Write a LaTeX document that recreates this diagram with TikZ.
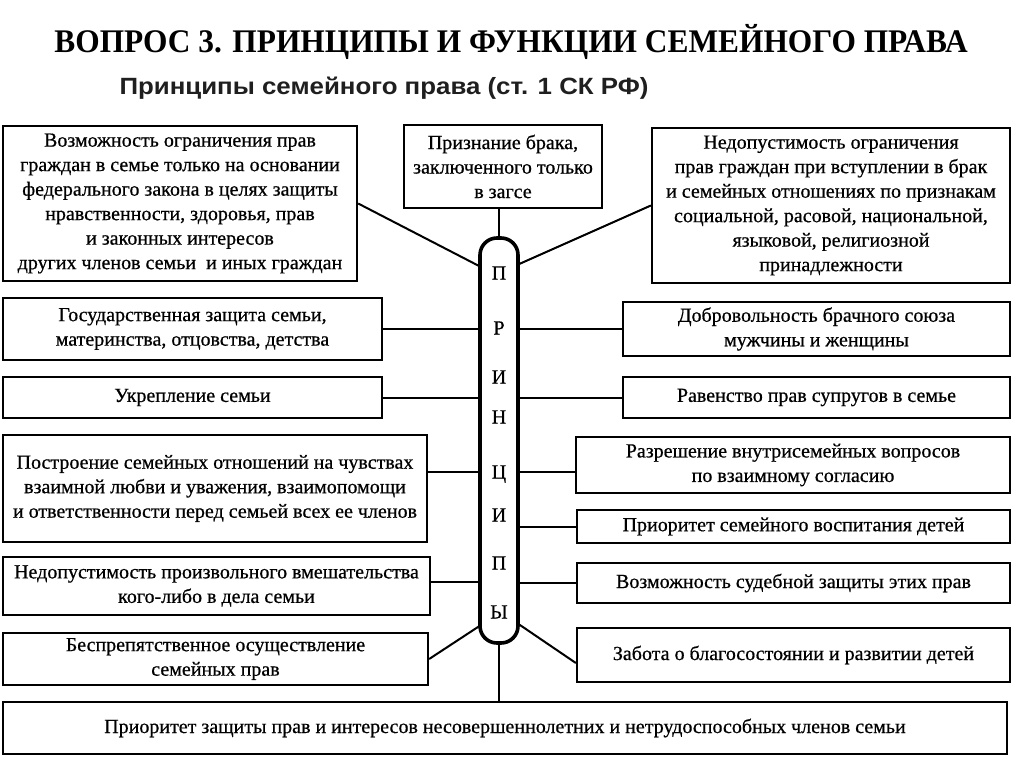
\documentclass[tikz,border=0pt]{standalone}
\usepackage{fontspec}
\setmainfont{Liberation Serif}
\newfontfamily\boxfont[FakeBold=0.6]{Liberation Serif}
\newfontfamily\subfont{Liberation Sans}
\usetikzlibrary{calc}
\newcommand\pbox[6]{\node[box, minimum width={#4-#2}, minimum height={#5-#3}] (#1) at ({(#2+#4)/2},{(#3+#5)/2}) {#6};}
\begin{document}
\begin{tikzpicture}[x=1pt,y=-1pt,
  box/.style={draw, line width=2.3pt, fill=white, align=center, inner sep=0pt,
    font=\boxfont\fontsize{20}{24.5}\selectfont},
  conn/.style={line width=2pt},
  pillar/.style={draw, line width=3.6pt, fill=white, rounded corners=17pt, inner sep=0pt},
  letter/.style={font=\boxfont\fontsize{20}{24}\selectfont, inner sep=0pt, anchor=base},
  titlestyle/.style={inner sep=0pt, anchor=base}]
\useasboundingbox[fill=white] (0,0) rectangle (1024,767);

\node[titlestyle] (T) at (511,52.5) {\scalebox{0.951}[1]{\fontsize{33}{38}\selectfont\bfseries ВОПРОС 3. ПРИНЦИПЫ И ФУНКЦИИ СЕМЕЙНОГО ПРАВА}};
\node[titlestyle, text=black!88] (S) at (384,95) {\scalebox{1.10}[1]{\fontsize{23.5}{27}\selectfont\subfont\bfseries Принципы семейного права (ст. 1 СК РФ)}};

\pbox{L1}{3}{126}{357}{281}{Возможность ограничения прав\\граждан в семье только на основании\\федерального закона в целях защиты\\нравственности, здоровья, прав\\и законных интересов\\других членов семьи \ и иных граждан}
\pbox{M}{404}{125}{602}{208}{Признание брака,\\заключенного только\\в загсе}
\pbox{R1}{652}{128}{1010}{283}{Недопустимость ограничения\\прав граждан при вступлении в брак\\и семейных отношениях по признакам\\социальной, расовой, национальной,\\языковой, религиозной\\принадлежности}
\pbox{L2}{3}{298}{382}{360}{Государственная защита семьи,\\материнства, отцовства, детства}
\pbox{L3}{3}{377}{382}{418}{Укрепление семьи}
\pbox{L4}{3}{435}{427}{542}{Построение семейных отношений на чувствах\\взаимной любви и уважения, взаимопомощи\\и ответственности перед семьей всех ее членов}
\pbox{L5}{3}{557}{430}{615}{Недопустимость произвольного вмешательства\\кого-либо в дела семьи}
\pbox{L6}{3}{633}{428}{685}{Беспрепятственное осуществление\\семейных прав}
\pbox{R2}{623}{302}{1010}{356}{Добровольность брачного союза\\мужчины и женщины}
\pbox{R3}{623}{377}{1010}{418}{Равенство прав супругов в семье}
\pbox{R4}{576}{437}{1010}{493}{Разрешение внутрисемейных вопросов\\по взаимному согласию}
\pbox{R5}{577}{510}{1010}{543}{Приоритет семейного воспитания детей}
\pbox{R6}{577}{563}{1010}{603}{Возможность судебной защиты этих прав}
\pbox{R7}{577}{628}{1010}{682}{Забота о благосостоянии и развитии детей}
\pbox{B}{3}{702}{1007}{754}{Приоритет защиты прав и интересов несовершеннолетних и нетрудоспособных членов семьи}

\node[pillar, minimum width=38, minimum height=405] (P) at (499,440.5) {};
\coordinate (PA) at (481,267);
\coordinate (PB) at (517,265);
\coordinate (PC) at (481,625);
\coordinate (PD) at (517,623);

\draw[conn] (M.south -| P.north) -- (P.north);
\draw[conn] (L1.east) -- (PA);
\draw[conn] (R1.west) -- (PB);
\draw[conn] (L2.east) -- (L2.east -| P.west);
\draw[conn] (L3.east) -- (L3.east -| P.west);
\draw[conn] (L4.east |- 0,472) -- (P.west |- 0,472);
\draw[conn] (L5.east |- 0,582) -- (P.west |- 0,582);
\draw[conn] (L6.east) -- (PC);
\draw[conn] (R2.west) -- (R2.west -| P.east);
\draw[conn] (R3.west) -- (R3.west -| P.east);
\draw[conn] (R4.west |- 0,472) -- (P.east |- 0,472);
\draw[conn] (R5.west) -- (R5.west -| P.east);
\draw[conn] (R6.west) -- (R6.west -| P.east);
\draw[conn] (R7.west |- 0,663) -- (PD);
\draw[conn] (P.south) -- (P.south |- B.north);

\node[letter] (c1) at (499,279.5) {П};
\node[letter] (c2) at (499,334.5) {Р};
\node[letter] (c3) at (499,383.5) {И};
\node[letter] (c4) at (499,423.5) {Н};
\node[letter] (c5) at (499,478.5) {Ц};
\node[letter] (c6) at (499,521.5) {И};
\node[letter] (c7) at (499,569.5) {П};
\node[letter] (c8) at (499,618.5) {Ы};
\end{tikzpicture}
\end{document}
